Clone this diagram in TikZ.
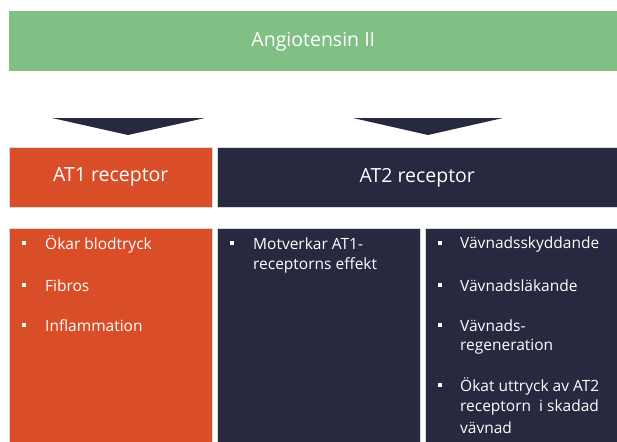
\documentclass[tikz,border=0pt]{standalone}
\usepackage{fontspec}
\setmainfont{Open Sans}
\definecolor{angiogreen}{HTML}{80C085}
\definecolor{atone}{HTML}{D94E28}
\definecolor{attwo}{HTML}{262940}

\begin{document}
\begin{tikzpicture}[
      x=1pt, y=-1pt,
      cell/.style={draw=white!85!black, line width=0.6pt, anchor=north west, inner sep=0pt},
      head text/.style={text=white, font=\fontsize{19.5}{23}\selectfont},
      item text/.style={text=white, anchor=west, inner sep=0pt, font=\fontsize{15.5}{19}\selectfont},
      item mark/.style={fill=white, minimum size=4pt, inner sep=0pt},
      pointer/.style={fill=attwo}
      ]
      \useasboundingbox (0,0) rectangle (617,441);
      % angiotensin bar
      \node [cell, draw=none, fill=angiogreen, minimum width=608, minimum height=60, head text] (ang) at (9,11) {Angiotensin II};
      % pointers
      \coordinate (p1) at (128,135);
      \coordinate (p2) at (428,135);
      \fill [pointer] (p1) -- ++(-76,-17) -- ++(153,0) -- cycle;
      \fill [pointer] (p2) -- ++(-75,-17) -- ++(150,0) -- cycle;
      % headers
      \node [cell, fill=atone, minimum width=203, minimum height=60, head text] (at1) at (9,147) {AT1 receptor};
      \node [cell, fill=attwo, minimum width=400, minimum height=60, head text] (at2) at (217,147) {AT2 receptor};
      % bodies
      \node [cell, fill=atone, minimum width=203, minimum height=214] (body1) at (9,228) {};
      \node [cell, fill=attwo, minimum width=203, minimum height=214] (body2) at (217,228) {};
      \node [cell, fill=attwo, minimum width=193, minimum height=214] (body3) at (425,228) {};
      % AT1 items
      \foreach \y/\t in {243/Ökar blodtryck,285/Fibros,325/Inflammation} {
          \node [item mark] (m1-\y) at (24,\y) {};
          \node [item text] (t1-\y) at (45,\y+1) {\t};
      }
      % AT2 items, left column
      \node [item mark] (m2-243) at (232,243) {};
      \foreach \y/\t in {243/Motverkar AT1-,264/receptorns effekt} {
          \node [item text] (t2-\y) at (253,\y+1) {\t};
      }
      % AT2 items, right column
      \foreach \y in {243,285,325,385} {
          \node [item mark] (m3-\y) at (440,\y) {};
      }
      \foreach \y/\t in {243/Vävnadsskyddande,285/Vävnadsläkande,325/Vävnads-,346/regeneration,385/Ökat uttryck av AT2,406/receptorn\ \ i skadad,427/vävnad} {
          \node [item text] (t3-\y) at (460,\y+1) {\t};
      }
\end{tikzpicture}
\end{document}
